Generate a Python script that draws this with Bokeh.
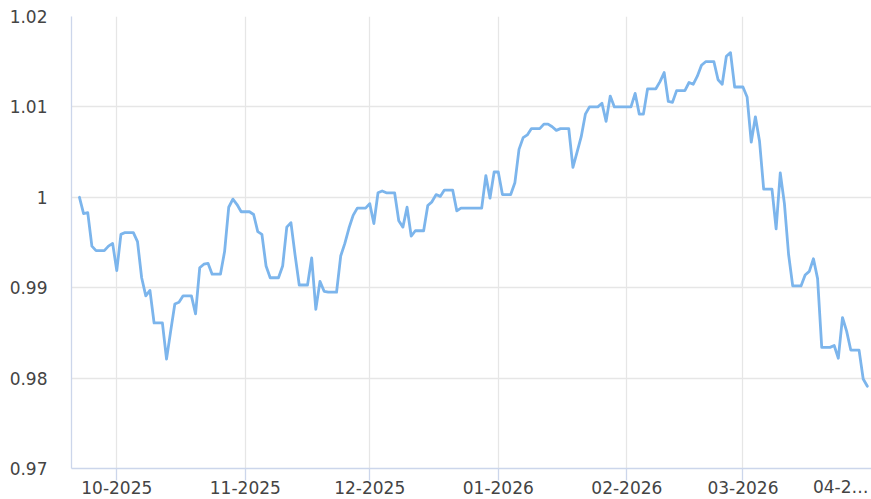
import pandas as pd
from bokeh.plotting import figure
from bokeh.models import (ColumnDataSource, FixedTicker, CustomJSTickFormatter,
                          Range1d, LinearAxis)
from bokeh.embed import file_html
from bokeh.resources import INLINE

start_date = "2025-09-22"
values = [
    1.0000, 0.9982, 0.9983, 0.9946, 0.9941, 0.9941, 0.9941, 0.9946, 0.9949, 0.9919,
    0.9959, 0.9961, 0.9961, 0.9961, 0.9951, 0.9911, 0.9891, 0.9897, 0.9861, 0.9861,
    0.9861, 0.9821, 0.9852, 0.9882, 0.9884, 0.9891, 0.9891, 0.9891, 0.9871, 0.9922,
    0.9926, 0.9927, 0.9915, 0.9915, 0.9915, 0.9940, 0.9989, 0.9998, 0.9992, 0.9984,
    0.9984, 0.9984, 0.9981, 0.9962, 0.9959, 0.9924, 0.9911, 0.9911, 0.9911, 0.9924,
    0.9967, 0.9972, 0.9936, 0.9903, 0.9903, 0.9903, 0.9933, 0.9876, 0.9907, 0.9896,
    0.9895, 0.9895, 0.9895, 0.9935, 0.9949, 0.9966, 0.9980, 0.9988, 0.9988, 0.9988,
    0.9993, 0.9971, 1.0005, 1.0007, 1.0005, 1.0005, 1.0005, 0.9974, 0.9967, 0.9989,
    0.9957, 0.9963, 0.9963, 0.9963, 0.9991, 0.9995, 1.0003, 1.0001, 1.0008, 1.0008,
    1.0008, 0.9985, 0.9988, 0.9988, 0.9988, 0.9988, 0.9988, 0.9988, 1.0024, 0.9999,
    1.0028, 1.0028, 1.0003, 1.0003, 1.0003, 1.0016, 1.0053, 1.0066, 1.0069, 1.0076,
    1.0076, 1.0076, 1.0081, 1.0081, 1.0078, 1.0074, 1.0076, 1.0076, 1.0076, 1.0033,
    1.0050, 1.0067, 1.0092, 1.0100, 1.0100, 1.0100, 1.0104, 1.0084, 1.0112, 1.0100,
    1.0100, 1.0100, 1.0100, 1.0100, 1.0115, 1.0092, 1.0092, 1.0120, 1.0120, 1.0120,
    1.0128, 1.0138, 1.0106, 1.0105, 1.0118, 1.0118, 1.0118, 1.0127, 1.0125, 1.0134,
    1.0146, 1.0150, 1.0150, 1.0150, 1.0130, 1.0125, 1.0156, 1.0160, 1.0122, 1.0122,
    1.0122, 1.0111, 1.0061, 1.0089, 1.0062, 1.0009, 1.0009, 1.0009, 0.9965, 1.0027,
    0.9993, 0.9937, 0.9902, 0.9902, 0.9902, 0.9914, 0.9918, 0.9932, 0.9910, 0.9834,
    0.9834, 0.9834, 0.9836, 0.9822, 0.9867, 0.9852, 0.9831, 0.9831, 0.9831, 0.9799,
    0.9791,
]
month_ticks = ["2025-10-01", "2025-11-01", "2025-12-01", "2026-01-01", "2026-02-01", "2026-03-01"]
last_tick_label = "04-2…"
y_ticks = [0.97, 0.98, 0.99, 1.00, 1.01, 1.02]

dates = pd.date_range(start_date, periods=len(values), freq="D")
src = ColumnDataSource(dict(x=dates, y=values))

x_start = pd.Timestamp("2025-09-20 02:00")
x_end = pd.Timestamp("2026-04-01")
# where the truncated April label is centred (shifted left to fit, as in the original)
last_label_pos = pd.Timestamp("2026-03-24 14:00")

p = figure(width=871, height=499, x_axis_type="datetime",
           output_backend="svg", toolbar_location=None,
           x_range=Range1d(x_start, x_end), y_range=Range1d(0.97, 1.02),
           min_border_left=71, min_border_right=0, min_border_top=16,
           min_border_bottom=31)
p.outline_line_color = None
p.background_fill_color = "white"

p.line("x", "y", source=src, line_color="#7cb5ec", line_width=2.8,
       line_join="round", line_cap="round")

ms = lambda t: pd.Timestamp(t).value // 10**6
tick_ms = [ms(t) for t in month_ticks]

month_fmt = CustomJSTickFormatter(code="""
    const d = new Date(tick);
    const m = String(d.getUTCMonth() + 1).padStart(2, '0');
    return m + '-' + d.getUTCFullYear();
""")

# main x axis: line, month ticks and labels
ax1 = p.xaxis[0]
ax1.ticker = FixedTicker(ticks=tick_ms)
ax1.formatter = month_fmt
ax1.axis_line_color = "#ccd6eb"
ax1.axis_line_width = 1.3
ax1.major_tick_line_color = "#ccd6eb"
ax1.major_tick_line_width = 1.3
ax1.major_tick_out = 12
ax1.major_tick_in = 0
ax1.minor_tick_line_color = None
ax1.major_label_standoff = 0
ax1.major_label_text_font = "DejaVu Sans"
ax1.major_label_text_font_size = "17px"
ax1.major_label_text_color = "#444444"

# truncated April label, on the same row as the month labels
ax2 = LinearAxis(ticker=FixedTicker(ticks=[ms(last_label_pos)]),
                 formatter=CustomJSTickFormatter(args=dict(last=last_tick_label),
                                                 code="return last;"))
ax2.axis_line_color = None
ax2.major_tick_line_color = None
ax2.minor_tick_line_color = None
ax2.major_tick_out = 0
ax2.major_tick_in = 0
ax2.major_label_standoff = -20
ax2.major_label_text_font = "DejaVu Sans"
ax2.major_label_text_font_size = "17px"
ax2.major_label_text_color = "#444444"
p.add_layout(ax2, "below")

p.yaxis.ticker = FixedTicker(ticks=y_ticks)
p.yaxis.formatter = CustomJSTickFormatter(code="return String(Math.round(tick*100)/100);")
p.yaxis.axis_line_color = "#ccd6eb"
p.yaxis.axis_line_width = 1.3
p.yaxis.major_label_text_font = "DejaVu Sans"
p.yaxis.major_label_text_font_size = "17px"
p.yaxis.major_label_text_color = "#444444"
p.yaxis.major_tick_line_color = None
p.yaxis.minor_tick_line_color = None
p.yaxis.major_tick_out = 0
p.yaxis.major_tick_in = 0
p.yaxis.major_label_standoff = 24

p.xgrid.ticker = FixedTicker(ticks=tick_ms)
p.xgrid.grid_line_color = "#e6e6e6"
p.xgrid.grid_line_width = 1.3
p.ygrid.grid_line_color = "#e6e6e6"
p.ygrid.grid_line_width = 1.3

open("out.html", "w").write(file_html(p, INLINE))
